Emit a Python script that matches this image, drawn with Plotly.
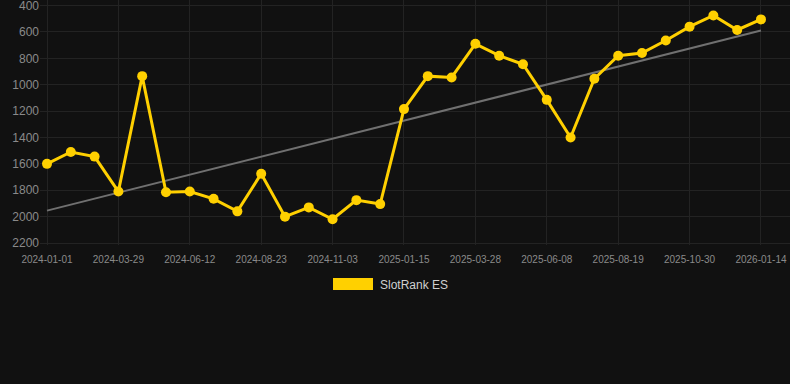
import numpy as np
import plotly.graph_objects as go

dates = [
    "2024-01-01", "2024-01-30", "2024-02-28", "2024-03-29", "2024-04-23", "2024-05-18",
    "2024-06-12", "2024-07-06", "2024-07-30", "2024-08-23", "2024-09-16", "2024-10-10",
    "2024-11-03", "2024-11-27", "2024-12-22", "2025-01-15", "2025-02-08", "2025-03-04",
    "2025-03-28", "2025-04-21", "2025-05-15", "2025-06-08", "2025-07-02", "2025-07-26",
    "2025-08-19", "2025-09-12", "2025-10-06", "2025-10-30", "2025-11-24", "2025-12-19",
    "2026-01-14",
]
rank_es = [
    1600, 1510, 1545, 1810, 935, 1815, 1810, 1865, 1960, 1675,
    2000, 1930, 2020, 1875, 1905, 1185, 935, 945, 690, 780,
    845, 1115, 1400, 955, 780, 760, 665, 560, 475, 585, 505,
]
tick_labels = dates[::3]
y_ticks = [400, 600, 800, 1000, 1200, 1400, 1600, 1800, 2000, 2200]

idx = np.arange(len(rank_es))
slope, intercept = np.polyfit(idx, rank_es, 1)
trend = (slope * idx + intercept).tolist()

GOLD = "#FFD000"
W, H = 790, 384
L, R, T, B = 40, 0, 0, 139
PW, PH = W - L - R, H - T - B

fig = go.Figure()
fig.add_trace(go.Scatter(
    x=dates, y=trend, mode="lines",
    line=dict(color="#707070", width=2), hoverinfo="skip", showlegend=False,
))
fig.add_trace(go.Scatter(
    x=dates, y=rank_es, mode="lines+markers", name="SlotRank ES",
    line=dict(color=GOLD, width=3),
    marker=dict(color=GOLD, size=10),
    showlegend=False,
))

# legend drawn manually (colour box + label)
fig.add_shape(type="rect", xref="paper", yref="paper",
              x0=(333 - L) / PW, x1=(373 - L) / PW,
              y0=(PH - 278) / PH, y1=(PH - 290) / PH,
              fillcolor=GOLD, line=dict(width=0))
fig.add_annotation(text="SlotRank ES", xref="paper", yref="paper",
                   x=(378 - L) / PW, y=(PH - 284.5) / PH,
                   xanchor="left", yanchor="middle", showarrow=False,
                   font=dict(family="Liberation Sans, Arial, sans-serif", size=12, color="#d0d0d0"))

fig.update_layout(
    width=W, height=H,
    margin=dict(l=L, r=R, t=T, b=B),
    paper_bgcolor="#111111", plot_bgcolor="#111111",
    font=dict(family="Liberation Sans, Arial, sans-serif", color="#8a8a8a"),
    xaxis=dict(
        type="category", range=[-0.294, 31.22],
        tickmode="array", tickvals=tick_labels, ticktext=tick_labels,
        tickfont=dict(size=10, color="#8a8a8a"),
        showgrid=True, gridcolor="#232323", gridwidth=1,
        zeroline=False, showline=False, ticks="", ticklabelstandoff=7,
        ticklabeloverflow="allow",
    ),
    yaxis=dict(
        range=[2215, 358], tickmode="array", tickvals=y_ticks,
        tickfont=dict(size=12, color="#8a8a8a"),
        showgrid=True, gridcolor="#232323", gridwidth=1,
        zeroline=False, showline=False, ticks="",
        ticklabeloverflow="allow",
    ),
)

fig.write_html(
    "out.html",
    config={"displayModeBar": False},
    post_script="document.body.style.margin='0';document.body.style.background='#111111';",
)
